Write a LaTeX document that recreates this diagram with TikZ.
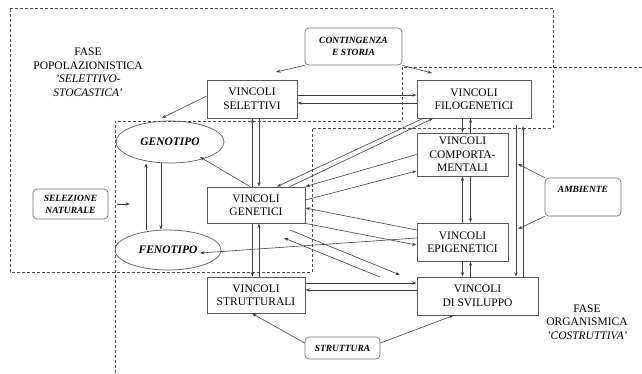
\documentclass[tikz,border=0pt]{standalone}
\usepackage{fontspec}
\setmainfont{Liberation Serif}
\usetikzlibrary{arrows.meta,shapes.geometric}

\begin{document}
\begin{tikzpicture}[x=1pt,y=-1pt,
		box/.style={draw=black!65,line width=0.9pt,align=center,inner sep=0pt,font=\fontsize{11.5}{13.5}\selectfont},
		tag/.style={draw=black!55,line width=0.7pt,rounded corners=4pt,align=center,inner sep=0pt,font=\fontsize{9.5}{12}\selectfont\bfseries\itshape},
		oval/.style={draw=black!65,line width=0.7pt,ellipse,inner sep=0pt,font=\fontsize{11.5}{13}\selectfont\bfseries\itshape},
		zone/.style={draw=black!70,densely dashed,line width=0.5pt},
		link/.style={draw=black!75,line width=0.6pt,-{Stealth[length=4.5pt,width=3.2pt]}},
		phase/.style={align=center,font=\fontsize{11.5}{13.5}\selectfont}]
			\useasboundingbox (0,0) rectangle (642,373);
			\draw[zone] (10,8) -- (553,8) -- (553,128) -- (312,128) -- (312,272) -- (10,272) -- cycle;
			\draw[zone] (115,373) -- (115,121) -- (402,121) -- (402,67) -- (642,67);
			\node[phase] (pop) at (88,72) {FASE\\POPOLAZIONISTICA\\{\itshape 'SELETTIVO-}\\{\itshape STOCASTICA'}};
			\node[phase] (org) at (587,322) {FASE\\ORGANISMICA\\{\itshape 'COSTRUTTIVA'}};
			\node[box,minimum width=90pt,minimum height=38pt] (sel) at (252,99) {VINCOLI\\SELETTIVI};
			\node[box,minimum width=114pt,minimum height=38pt] (filo) at (474,99) {VINCOLI\\FILOGENETICI};
			\node[box,minimum width=91pt,minimum height=43pt] (comp) at (462.5,154.5) {VINCOLI\\COMPORTA-\\MENTALI};
			\node[box,minimum width=91pt,minimum height=38pt] (epi) at (462.5,242) {VINCOLI\\EPIGENETICI};
			\node[box,minimum width=121pt,minimum height=38pt] (svil) at (477.5,296) {VINCOLI\\DI SVILUPPO};
			\node[box,minimum width=98pt,minimum height=36pt] (gen) at (256,205) {VINCOLI\\GENETICI};
			\node[box,minimum width=98pt,minimum height=36pt] (strut) at (256,295) {VINCOLI\\STRUTTURALI};
			\node[tag,minimum width=97pt,minimum height=37pt] (cont) at (353.5,46.5) {CONTINGENZA\\E STORIA};
			\node[tag,minimum width=75pt,minimum height=30pt] (selnat) at (70.5,204) {SELEZIONE\\NATURALE};
			\node[tag,minimum width=76pt,minimum height=38pt,text depth=16pt] (amb) at (583,197) {AMBIENTE};
			\node[tag,minimum width=75pt,minimum height=22pt] (stru) at (342.5,348) {STRUTTURA};
			\node[oval,minimum width=108pt,minimum height=42pt] (geno) at (170,142) {GENOTIPO};
			\node[oval,minimum width=106pt,minimum height=40pt] (feno) at (168,250) {FENOTIPO};
			\coordinate (c1) at (276,72);
			\coordinate (c2) at (432,73);
			\coordinate (s1) at (162,118);
			\coordinate (n1) at (130,204);
			\coordinate (d1) at (290,230);
			\coordinate (d2) at (400,275);
			\coordinate (d3) at (380,277);
			\coordinate (d4) at (284,238);
			\coordinate (v1) at (516,125);
			\coordinate (v2) at (523,126);
			\coordinate (a1) at (518,164);
			\coordinate (a2) at (518,229);
			\draw[link] (cont.south west) -- (c1);
			\draw[link] (cont.south east) -- (c2);
			\draw[link] ([yshift=3pt]sel.west) -- (s1);
			\draw[link] ([yshift=4pt]sel.east) -- ([yshift=4pt]filo.west);
			\draw[link] ([yshift=-4pt]filo.west) -- ([yshift=-4pt]sel.east);
			\draw[link] ([xshift=-3.5pt]gen.north) -- ([xshift=-3.5pt]gen.north |- sel.south);
			\draw[link] ([xshift=3pt]gen.north |- sel.south) -- ([xshift=3pt]gen.north);
			\draw[link] ([xshift=-3.5pt]gen.south) -- ([xshift=-3.5pt]strut.north);
			\draw[link] ([xshift=3pt]strut.north) -- ([xshift=3pt]gen.south);
			\draw[link] ([xshift=-6pt]gen.north) -- ([shift={(30,15)}]geno.center);
			\draw[link] ([xshift=-22pt]feno.north) -- ([xshift=-24pt]geno.south);
			\draw[link] ([xshift=-9pt]geno.south) -- ([xshift=-7pt]feno.north);
			\draw[link] (n1 -| selnat.east) ++(9,0) -- (n1);
			\draw[link] ([xshift=-51pt]filo.south) -- ([xshift=21pt]gen.north);
			\draw[link] ([xshift=34pt]gen.north) -- ([xshift=-41pt]filo.south);
			\draw[link] (comp.west) -- (gen.north east);
			\draw[link] ([yshift=5pt]gen.east) -- ([yshift=-16.5pt]comp.west);
			\draw[link] ([yshift=12pt]epi.west) -- ([yshift=-3pt]gen.east);
			\draw[link] (gen.south east) -- ([yshift=-3pt]epi.west);
			\draw[link] ([yshift=4pt]epi.west) -- ([shift={(32,3)}]feno.center);
			\draw[link] (d1) -- (d2);
			\draw[link] (d3) -- (d4);
			\draw[link] ([yshift=12pt]strut.east) -- ([yshift=12pt]strut.east -| svil.west);
			\draw[link] ([yshift=5pt]strut.east -| svil.west) -- ([yshift=5pt]strut.east);
			\draw[link] (comp.north |- filo.south) -- (comp.north);
			\draw[link] ([xshift=8pt]comp.north) -- ([xshift=8pt]comp.north |- filo.south);
			\draw[link] (epi.north) -- (comp.south);
			\draw[link] ([xshift=8pt]comp.south) -- ([xshift=8pt]epi.north);
			\draw[link] (epi.south) -- (epi.south |- svil.north);
			\draw[link] ([xshift=8pt]epi.south |- svil.north) -- ([xshift=8pt]epi.south);
			\draw[link] (v1) -- (v1 |- svil.north);
			\draw[link] (v2 |- svil.north) -- (v2);
			\draw[link] (amb.north west) -- (a1);
			\draw[link] (amb.south west) -- (a2);
			\draw[link] ([yshift=5pt]stru.west) -- ([xshift=-4pt]strut.south);
			\draw[link] ([yshift=5pt]stru.east) -- ([xshift=-24pt]svil.south);
		\end{tikzpicture}
\end{document}
